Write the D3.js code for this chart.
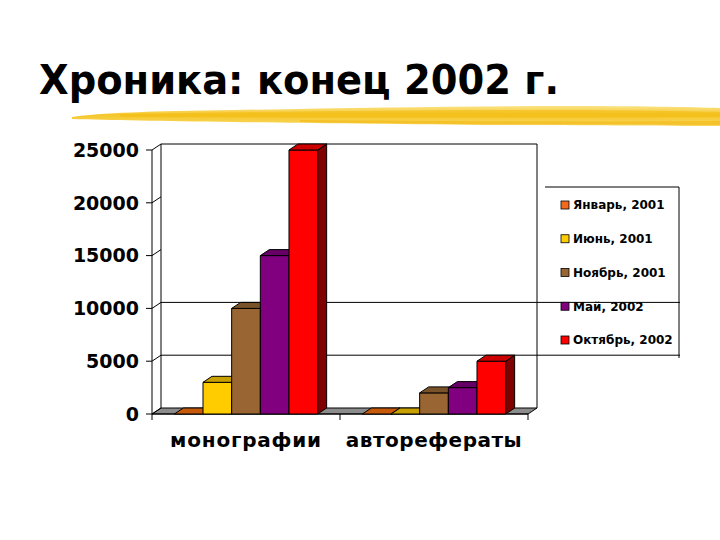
<!DOCTYPE html>
<html><head><meta charset="utf-8">
<script src="https://cdn.jsdelivr.net/npm/d3@7"></script>
<style>body{margin:0;background:#fff}svg{display:block}</style>
</head><body>
<script>
const title = "Хроника: конец 2002 г.";
const categories = ["монографии", "авторефераты"];
const series = ["Январь, 2001", "Июнь, 2001", "Ноябрь, 2001", "Май, 2002", "Октябрь, 2002"];
const monografii = [0, 3000, 10000, 15000, 25000];
const avtoreferaty = [0, 0, 2000, 2500, 5000];
const yTicks = [0, 5000, 10000, 15000, 20000, 25000];
const gridValues = [5000, 10000];
const frontColors = ["#F26A1E", "#FFCC00", "#996633", "#800080", "#FF0000"];
const topColors = ["#C65A0A", "#C8A000", "#7A5229", "#660066", "#CC0000"];
const sideColors = ["#803300", "#806600", "#4D3319", "#400040", "#800000"];

const values = [monografii, avtoreferaty];
const W = 720, H = 540;
const svg = d3.select("body").append("svg").attr("width", W).attr("height", H);

// brush stroke under title
const defs = svg.append("defs");
const g1 = defs.append("linearGradient").attr("id","br").attr("x1",0).attr("y1",0).attr("x2",0).attr("y2",1);
g1.append("stop").attr("offset","0").attr("stop-color","#FAE07A");
g1.append("stop").attr("offset","0.45").attr("stop-color","#F5C21A");
g1.append("stop").attr("offset","1").attr("stop-color","#F8D450");
svg.append("path").attr("d","M72,117 C100,113 150,111 233,110 C350,108 450,106 560,106 C640,106 690,107 720,108 L720,126 C650,126 560,125 480,125 C380,124 300,123 233,122 C160,121 110,120 72,119 Z")
  .attr("fill","url(#br)").attr("opacity",0.92);
svg.append("path").attr("d","M120,114 C250,112 400,110 560,110 C620,110 680,111 720,112 L720,117 C600,118 400,118 120,117 Z").attr("fill","#F2B705").attr("opacity",0.5);
svg.append("path").attr("d","M300,120 C420,121 560,122 720,121 L720,125 C560,125 420,124 300,122 Z").attr("fill","#EFAE00").attr("opacity",0.45);

svg.append("text").text(title).attr("x", 39).attr("y", 94)
  .attr("font-family","DejaVu Sans").attr("font-weight","bold").attr("font-size",40)
  .attr("textLength",520).attr("lengthAdjust","spacingAndGlyphs").attr("fill","#000");

// geometry
const dx = 9, dy = 6;
const y = d3.scaleLinear().domain([0, 25000]).range([414, 150]);
const x0 = d3.scaleBand().domain(categories).range([152, 528]).paddingInner(0).paddingOuter(0);
const x1 = d3.scaleBand().domain(series).range([0, x0.bandwidth()]).paddingInner(0).paddingOuter(0.78);
const left = 152, right = 528, y0 = y(0), yTop = y(25000);

// floor
svg.append("path").attr("d", `M${left},${y0} L${left+dx},${y0-dy} L${right+dx},${y0-dy} L${right},${y0} Z`)
  .attr("fill","#8c8c8c").attr("stroke","#000").attr("stroke-width",1);

// back wall outline
svg.append("path").attr("d", `M${left+dx},${y0-dy} L${left+dx},${yTop-dy} L${right+dx},${yTop-dy} L${right+dx},${y0-dy}`)
  .attr("fill","none").attr("stroke","#000");
// side wall / front axis
svg.append("line").attr("x1",left).attr("x2",left).attr("y1",yTop).attr("y2",y0).attr("stroke","#000");
// grid lines (extend beyond the wall as in reference)
gridValues.forEach(v=>{
  svg.append("line").attr("x1",left+dx).attr("x2",680).attr("y1",y(v)-dy).attr("y2",y(v)-dy).attr("stroke","#000");
});
// ticks + diagonals
yTicks.forEach(v=>{
  svg.append("line").attr("x1",left-6).attr("x2",left).attr("y1",y(v)).attr("y2",y(v)).attr("stroke","#000");
  svg.append("line").attr("x1",left).attr("x2",left+dx).attr("y1",y(v)).attr("y2",y(v)-dy).attr("stroke","#000");
  svg.append("text").text(v).attr("x",139).attr("y",y(v)).attr("dy","0.36em").attr("text-anchor","end")
    .attr("font-family","DejaVu Sans").attr("font-weight","bold").attr("font-size",19).attr("fill","#000");
});
// bottom ticks
[left, x0(categories[1]), right].forEach(xx=>{
  svg.append("line").attr("x1",xx).attr("x2",xx).attr("y1",y0).attr("y2",y0+6).attr("stroke","#000");
});
svg.append("line").attr("x1",left).attr("x2",right).attr("y1",y0).attr("y2",y0).attr("stroke","#000");

// bars
categories.forEach((c, ci)=>{
  series.forEach((s, si)=>{
    const v = values[ci][si];
    const xa = x0(c) + x1(s), xb = xa + x1.bandwidth();
    const yt = y(v);
    const g = svg.append("g").attr("stroke","#000").attr("stroke-width",1).attr("stroke-linejoin","round");
    g.append("path").attr("d",`M${xb},${yt} L${xb+dx},${yt-dy} L${xb+dx},${y0-dy} L${xb},${y0} Z`).attr("fill",sideColors[si]);
    if (v > 0) g.append("rect").attr("x",xa).attr("y",yt).attr("width",xb-xa).attr("height",y0-yt).attr("fill",frontColors[si]);
    g.append("path").attr("d",`M${xa},${yt} L${xa+dx},${yt-dy} L${xb+dx},${yt-dy} L${xb},${yt} Z`).attr("fill",topColors[si]);
  });
  svg.append("text").text(c).attr("x", x0(c)+x0.bandwidth()/2).attr("y",447).attr("text-anchor","middle")
    .attr("font-family","DejaVu Sans").attr("font-weight","bold").attr("font-size",20)
    .attr("letter-spacing", ci === 0 ? "0.8px" : "0.5px").attr("fill","#000");
});

// legend
svg.append("path").attr("d","M545,187 L679,187 L679,358").attr("fill","none").attr("stroke","#000");
const ly = d3.scalePoint().domain(series).range([205, 340]);
series.forEach((s, si)=>{
  svg.append("rect").attr("x",561).attr("y",ly(s)-4).attr("width",8).attr("height",8)
    .attr("fill",frontColors[si]).attr("stroke","#000").attr("stroke-width",0.8);
  svg.append("text").text(s).attr("x",573).attr("y",ly(s)).attr("dy","0.36em")
    .attr("font-family","DejaVu Sans").attr("font-weight","bold").attr("font-size",12).attr("fill","#000");
});
</script>
</body></html>
